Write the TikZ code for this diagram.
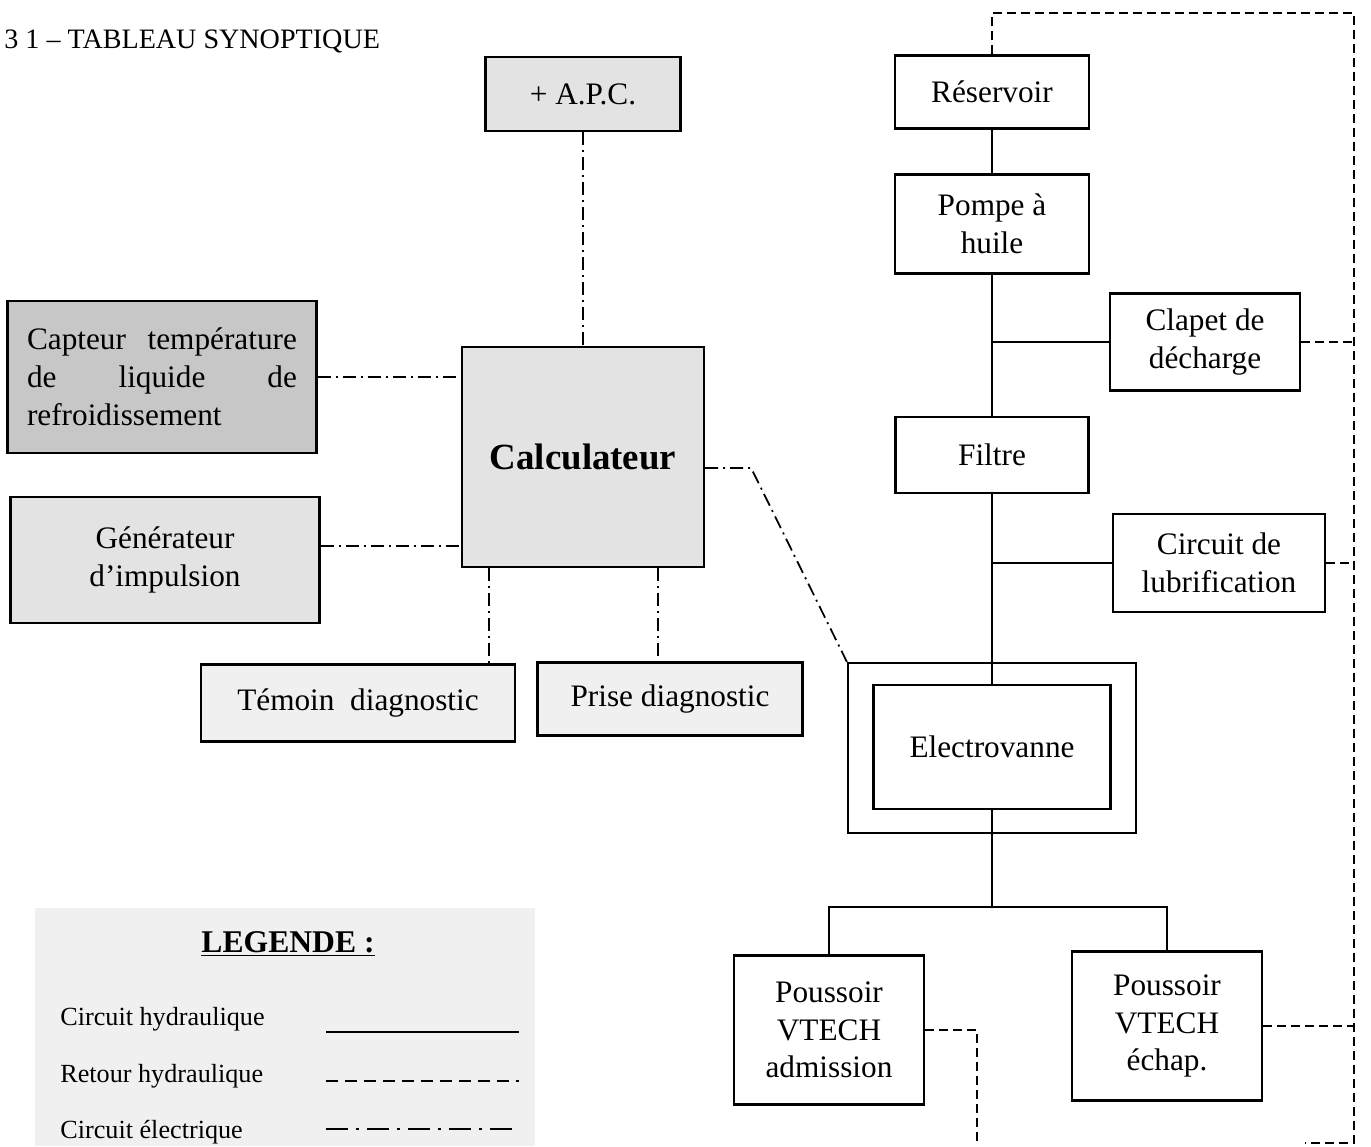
\documentclass[tikz,border=0pt]{standalone}
\usepackage{fontspec}
\setmainfont{Liberation Serif}
\usepackage{tikz}
\colorlet{gcapt}{black!22}
\colorlet{gcalc}{black!11}
\colorlet{gpale}{black!6}
\tikzstyle{bloc}=[draw, line width=1.3pt, align=center, inner sep=0pt, font=\fontsize{17.8}{21.5}\selectfont]
\tikzstyle{hydro}=[line width=1pt]
\tikzstyle{retour}=[line width=1pt, dash pattern=on 0.18cm off 0.1cm]
\tikzstyle{elec}=[line width=1pt, dash pattern=on 0.26cm off 0.1cm on 0.04cm off 0.1cm]
\tikzstyle{legtxt}=[anchor=base west, inner sep=0pt, font=\fontsize{14.9}{17}\selectfont]

\begin{document}
\begin{tikzpicture}[x=0.02cm, y=-0.02cm]
	\useasboundingbox (0,0) rectangle (1371,1146);
	\fill[gpale] (35,908) rectangle (535,1146);

	\node[anchor=west, inner sep=0pt, font=\fontsize{16}{18}\selectfont] (titre) at (4,41) {3 1 -- TABLEAU SYNOPTIQUE};

	% Circuit electrique
	\node[bloc, fill=gcalc, minimum width=3.9cm, minimum height=1.48cm] (apc) at (583,94) {+ A.P.C.};
	\node[bloc, fill=gcalc, minimum width=4.84cm, minimum height=4.4cm, font=\bfseries\fontsize{21}{24}\selectfont] (calc) at (583,457) {Calculateur};
	\node[bloc, fill=gcapt, minimum width=6.18cm, minimum height=3.04cm] (capt) at (162,377) {\parbox{5.4cm}{\hbox to 5.4cm{Capteur\hfil température}\hbox to 5.4cm{de\hfil liquide\hfil de}\hbox{refroidissement}}};
	\node[bloc, fill=gcalc, minimum width=6.18cm, minimum height=2.52cm] (gen) at (165,560) {Générateur\\d'impulsion};
	\node[bloc, fill=gpale, minimum width=6.28cm, minimum height=1.54cm] (temoin) at (358,703) {Témoin\ \ diagnostic};
	\node[bloc, fill=gpale, minimum width=5.3cm, minimum height=1.46cm] (prise) at (670,699) {Prise diagnostic};

	% Circuit hydraulique
	\node[bloc, minimum width=3.88cm, minimum height=1.46cm] (res) at (992,92) {Réservoir};
	\node[bloc, minimum width=3.88cm, minimum height=1.98cm] (pompe) at (992,224) {Pompe à\\huile};
	\node[bloc, minimum width=3.8cm, minimum height=1.94cm] (clapet) at (1205,342) {Clapet de\\décharge};
	\node[bloc, minimum width=3.86cm, minimum height=1.52cm] (filtre) at (992,455) {Filtre};
	\node[bloc, minimum width=4.24cm, minimum height=1.96cm] (lubrif) at (1219,563) {Circuit de\\lubrification};
	\node[bloc, minimum width=5.76cm, minimum height=3.4cm] (evo) at (992,748) {};
	\node[bloc, minimum width=4.74cm, minimum height=2.48cm] (evi) at (992,747) {Electrovanne};
	\node[bloc, minimum width=3.8cm, minimum height=2.98cm] (admi) at (829,1030) {Poussoir\\VTECH\\admission};
	\node[bloc, minimum width=3.8cm, minimum height=2.98cm] (echap) at (1167,1026) {Poussoir\\VTECH\\échap.};

	\coordinate (nd) at (992,907);
	\coordinate (haut) at (1354,13);
	\coordinate (bas) at (1354,1143);
	\coordinate (basg) at (1305,1143);
	\coordinate (admbas) at (977,1146);

	% Traits pleins
	\draw[hydro] (res.south) -- (pompe.north) (pompe.south) -- (filtre.north) (filtre.south) -- (evi.north) (evi.south) -- (nd);
	\draw[hydro] (clapet.west) -- (clapet.west -| pompe.south);
	\draw[hydro] (lubrif.west) -- (lubrif.west -| filtre.south);
	\draw[hydro] (admi.north) -- (admi.north |- nd) -- (echap.north |- nd) -- (echap.north);

	% Retour
	\draw[retour] (res.north) |- (haut) -- (bas) -- (basg);
	\draw[retour] (clapet.east) -- (clapet.east -| haut);
	\draw[retour] (lubrif.east) -- (lubrif.east -| haut);
	\draw[retour] (echap.east) -- (echap.east -| haut);
	\draw[retour] (admi.east) -| (admbas);

	% Electrique
	\draw[elec] (apc.south) -- (calc.north);
	\draw[elec] (capt.east) -- (capt.east -| calc.west);
	\draw[elec] ([yshift=0.28cm]gen.east) -- ([yshift=0.28cm]gen.east -| calc.west);
	\draw[elec] ([xshift=-1.88cm]calc.south) -- ([xshift=-1.88cm]calc.south |- temoin.north);
	\draw[elec] ([xshift=1.5cm]calc.south) -- ([xshift=1.5cm]calc.south |- prise.north);
	\draw[elec] ([yshift=-0.22cm]calc.east) -- ++(46,0) -- (evo.north west);

	% Legende
	\node[anchor=base, inner sep=0pt, font=\bfseries\fontsize{18}{20}\selectfont] (leg) at (288,952) {\underline{LEGENDE :}};
	\node[legtxt] (lhyd) at (60,1025) {Circuit hydraulique};
	\node[legtxt] (lret) at (60,1082) {Retour hydraulique};
	\node[legtxt] (lele) at (60,1138) {Circuit électrique};
	\coordinate (l1a) at (326,1032); \coordinate (l1b) at (519,1032);
	\coordinate (l2a) at (326,1081); \coordinate (l2b) at (519,1081);
	\coordinate (l3a) at (326,1129); \coordinate (l3b) at (519,1129);
	\draw[line width=1.6pt] (l1a) -- (l1b);
	\draw[line width=1.5pt, dash pattern=on 0.24cm off 0.14cm] (l2a) -- (l2b);
	\draw[line width=1.5pt, dash pattern=on 0.44cm off 0.16cm on 0.06cm off 0.16cm] (l3a) -- (l3b);
\end{tikzpicture}
\end{document}
